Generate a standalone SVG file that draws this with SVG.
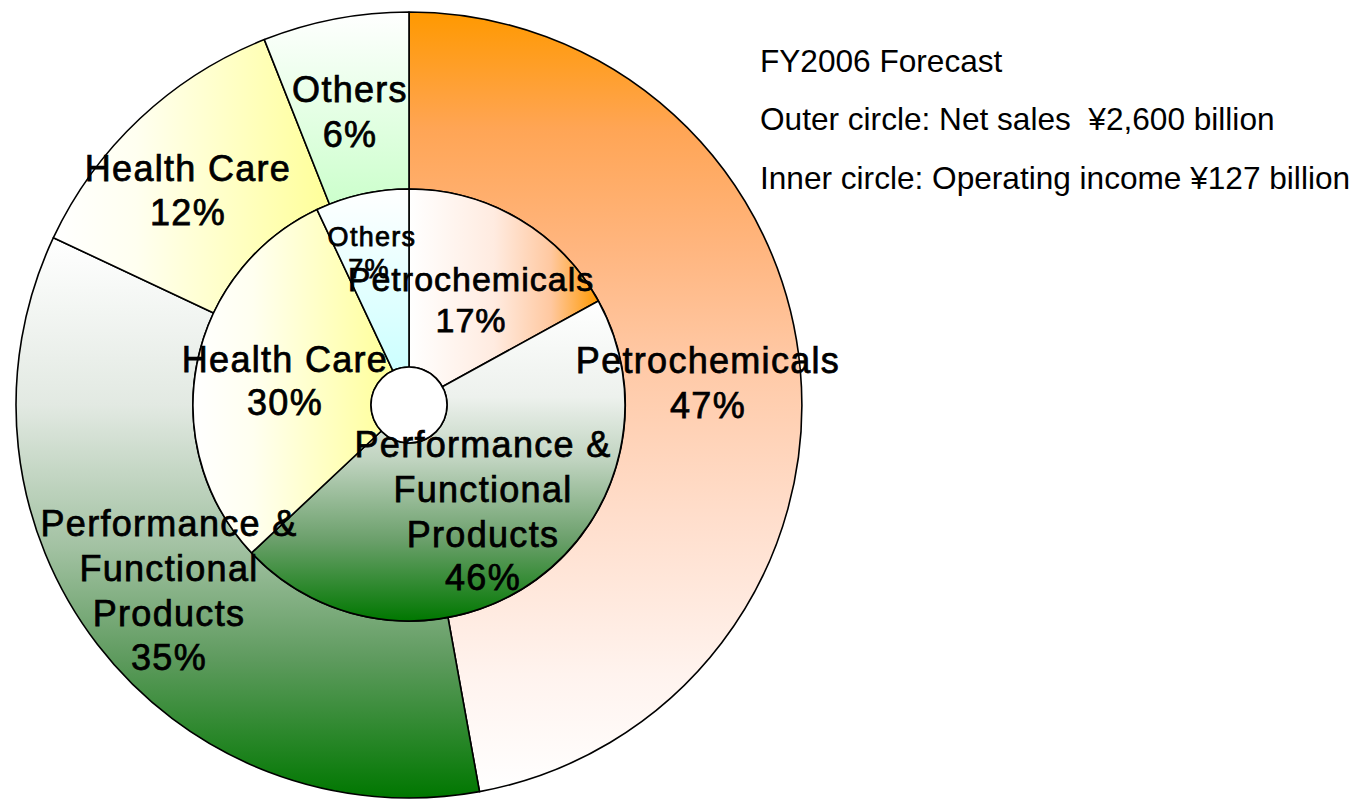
<svg xmlns="http://www.w3.org/2000/svg" width="1358" height="799" viewBox="0 0 1358 799">
<style>
.sl{stroke:#000;stroke-width:1.6;stroke-linejoin:round}
.lb{font-family:"Liberation Sans",Arial,sans-serif;font-size:36px;letter-spacing:1.3px;fill:#000;stroke:#000;stroke-width:0.75;text-anchor:middle}
.lbs{font-size:34px;letter-spacing:1px}
.lbx{font-size:27px;letter-spacing:1.3px}
.info{font-family:"Liberation Sans",Arial,sans-serif;font-size:31.6px;fill:#000}
</style>
<defs>
<linearGradient id="gPetroO" x1="0" y1="0" x2="0" y2="1">
<stop offset="0" stop-color="#FF9900"/><stop offset="0.15" stop-color="#FFA555"/><stop offset="0.3" stop-color="#FFB57E"/><stop offset="0.45" stop-color="#FFC9A6"/><stop offset="0.65" stop-color="#FFDECC"/><stop offset="0.85" stop-color="#FFF3EE"/><stop offset="1" stop-color="#FFFFFF"/>
</linearGradient>
<linearGradient id="gPerfO" x1="0" y1="0" x2="0" y2="1">
<stop offset="0" stop-color="#FFFFFF"/><stop offset="0.3" stop-color="#E2E9E2"/><stop offset="0.55" stop-color="#A3C2A3"/><stop offset="0.75" stop-color="#5F9B5F"/><stop offset="1" stop-color="#007700"/>
</linearGradient>
<linearGradient id="gHealthO" x1="0" y1="0" x2="1" y2="0">
<stop offset="0" stop-color="#FFFFFF"/><stop offset="0.3" stop-color="#FFFFF0"/><stop offset="1" stop-color="#FFFF99"/>
</linearGradient>
<linearGradient id="gOthO" x1="0" y1="0" x2="0" y2="1">
<stop offset="0" stop-color="#FFFFFF"/><stop offset="1" stop-color="#CCFFCC"/>
</linearGradient>
<linearGradient id="gPetroI" x1="0" y1="0" x2="1" y2="0">
<stop offset="0" stop-color="#FFFFFF"/><stop offset="0.45" stop-color="#FFEBE0"/><stop offset="0.75" stop-color="#FFC8A0"/><stop offset="1" stop-color="#FF9900"/>
</linearGradient>
<linearGradient id="gPerfI" x1="0" y1="0" x2="0" y2="1">
<stop offset="0" stop-color="#FFFFFF"/><stop offset="0.3" stop-color="#EDF1ED"/><stop offset="0.5" stop-color="#BFD3BF"/><stop offset="0.75" stop-color="#6A9F6A"/><stop offset="1" stop-color="#007700"/>
</linearGradient>
<linearGradient id="gHealthI" x1="0" y1="0" x2="1" y2="0">
<stop offset="0" stop-color="#FFFFFF"/><stop offset="0.3" stop-color="#FFFFF0"/><stop offset="1" stop-color="#FFFF99"/>
</linearGradient>
<linearGradient id="gOthI" x1="0" y1="0" x2="0" y2="1">
<stop offset="0" stop-color="#FFFFFF"/><stop offset="1" stop-color="#CCFFFF"/>
</linearGradient>
</defs>
<rect width="1358" height="799" fill="#FFFFFF"/>
<g id="outer-petrochemicals"><path class="sl" fill="url(#gPetroO)" d="M409,12 A393,393 0 0 1 479.5,791.6 L448,617.5 A216,216 0 0 0 409,189 Z"/></g>
<g id="outer-performance"><path class="sl" fill="url(#gPerfO)" d="M479.5,791.6 A393,393 0 0 1 53.4,237.67 L213.56,313.03 A216,216 0 0 0 448,617.5 Z"/></g>
<g id="outer-healthcare"><path class="sl" fill="url(#gHealthO)" d="M53.4,237.67 A393,393 0 0 1 264.33,39.6 L329.49,204.17 A216,216 0 0 0 213.56,313.03 Z"/></g>
<g id="outer-others"><path class="sl" fill="url(#gOthO)" d="M264.33,39.6 A393,393 0 0 1 409,12 L409,189 A216,216 0 0 0 329.49,204.17 Z"/></g>
<g id="inner-petrochemicals"><path class="sl" fill="url(#gPetroI)" d="M409,189 A216,216 0 0 1 598.28,300.94 L442.3,386.69 A38,38 0 0 0 409,367 Z"/></g>
<g id="inner-performance"><path class="sl" fill="url(#gPerfI)" d="M598.28,300.94 A216,216 0 0 1 251.54,552.86 L381.3,431.01 A38,38 0 0 0 442.3,386.69 Z"/></g>
<g id="inner-healthcare"><path class="sl" fill="url(#gHealthI)" d="M251.54,552.86 A216,216 0 0 1 317.03,209.56 L392.82,370.62 A38,38 0 0 0 381.3,431.01 Z"/></g>
<g id="inner-others"><path class="sl" fill="url(#gOthI)" d="M317.03,209.56 A216,216 0 0 1 409,189 L409,367 A38,38 0 0 0 392.82,370.62 Z"/></g>
<g id="hole"><circle class="sl" cx="409" cy="405" r="38" fill="#FFFFFF"/></g>
<g id="labels">
<text class="lb" x="708" y="373">Petrochemicals</text>
<text class="lb" x="708" y="418">47%</text>
<text class="lb" x="350" y="102">Others</text>
<text class="lb" x="350" y="147">6%</text>
<text class="lb" x="188" y="181">Health Care</text>
<text class="lb" x="188" y="225">12%</text>
<text class="lb" x="169" y="536">Performance &amp;</text>
<text class="lb" x="169" y="581">Functional</text>
<text class="lb" x="169" y="626">Products</text>
<text class="lb" x="169" y="670">35%</text>
<text class="lb lbx" x="372" y="246">Others</text>
<text class="lb lbx" x="369" y="278">7%</text>
<text class="lb lbs" x="471" y="291">Petrochemicals</text>
<text class="lb lbs" x="471" y="332">17%</text>
<text class="lb" x="285" y="372">Health Care</text>
<text class="lb" x="285" y="415">30%</text>
<text class="lb" x="483" y="457">Performance &amp;</text>
<text class="lb" x="483" y="502">Functional</text>
<text class="lb" x="483" y="547">Products</text>
<text class="lb" x="483" y="590">46%</text>
</g>
<g id="legend">
<text class="info" x="760" y="72">FY2006 Forecast</text>
<text class="info" x="760" y="130" xml:space="preserve">Outer circle: Net sales  ¥2,600 billion</text>
<text class="info" x="760" y="189">Inner circle: Operating income ¥127 billion</text>
</g>
</svg>
